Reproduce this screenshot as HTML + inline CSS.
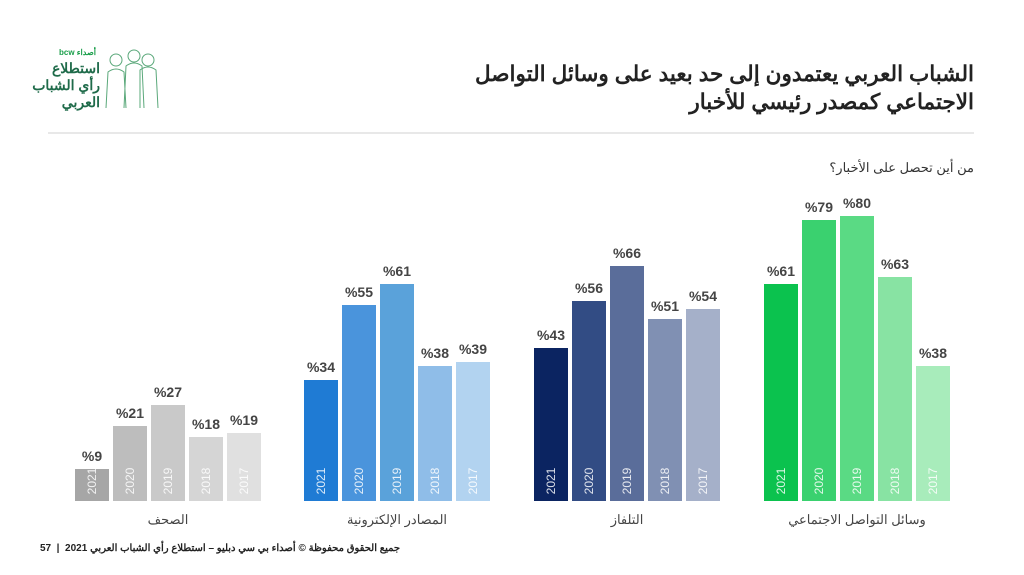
<!DOCTYPE html>
<html><head><meta charset="utf-8"><style>
body{margin:0;width:1024px;height:575px;background:#fff;position:relative;overflow:hidden;font-family:"Liberation Sans","Noto Sans CJK SC",sans-serif}
.t{position:absolute;white-space:nowrap}
.bar{position:absolute;width:34px;bottom:74px}
.yr{position:absolute;left:0;width:34px;text-align:center;color:rgba(255,255,255,.85);font-size:12px;transform:rotate(-90deg);transform-origin:center;line-height:12px;height:12px;bottom:14px}
.v{position:absolute;width:60px;left:-13px;text-align:center;font-weight:bold;font-size:14px;color:#444;top:-21px}
</style></head><body>
<div class="t" style="right:50px;top:60px;font-size:21.5px;font-weight:bold;color:#222;direction:rtl;text-align:right;line-height:28px">الشباب العربي يعتمدون إلى حد بعيد على وسائل التواصل<br>الاجتماعي كمصدر رئيسي للأخبار</div>
<div style="position:absolute;left:48px;top:132px;width:926px;height:2px;background:#e8e8e8"></div>
<div class="t" style="right:50px;top:160px;font-size:13px;color:#333;direction:rtl">من أين تحصل على الأخبار؟</div>
<div class="t" style="left:56px;top:48px;width:40px;text-align:right;font-size:8px;color:#1a9e4a;font-weight:bold">bcw أصداء</div>
<div class="t" style="left:36px;top:60px;font-size:14px;line-height:17px;color:#1f6b4a;text-align:right;width:64px;font-weight:bold;direction:rtl">استطلاع<br>رأي الشباب<br>العربي</div>
<svg style="position:absolute;left:100px;top:48px" width="62" height="62"><g fill="none" stroke="#5aa87a" stroke-width="1"><circle cx="16" cy="12" r="6"/><circle cx="34" cy="8" r="6"/><circle cx="48" cy="12" r="6"/><path d="M6 60 L8 24 Q16 18 24 24 L26 60 M24 60 L26 18 Q34 12 42 18 L44 60 M40 60 L40 22 Q48 16 56 22 L58 60"/></g></svg>

<div class="t" style="left:40px;top:543px;font-size:10px;font-weight:bold;color:#222">57 &nbsp;| &nbsp;<span style="direction:rtl;unicode-bidi:embed">جميع الحقوق محفوظة © أصداء بي سي دبليو – استطلاع رأي الشباب العربي 2021</span></div>

<div id="c"></div>
<script>
var groups=[
{x:75,label:"الصحف",vals:[9,21,27,18,19],cols:["#a6a6a6","#bdbdbd","#c9c9c9","#d5d5d5","#e0e0e0"]},
{x:304,label:"المصادر  الإلكترونية",vals:[34,55,61,38,39],cols:["#1f7bd4","#4a94dc","#5aa2da","#8fbde8","#b2d3f0"]},
{x:534,label:"التلفاز",vals:[43,56,66,51,54],cols:["#0b2461","#324c84","#5a6d9a","#8090b3","#a5b0c9"]},
{x:764,label:"وسائل التواصل الاجتماعي",vals:[61,79,80,63,38],cols:["#0bc24e","#3ad16f","#5ada84","#88e3a3","#a8ecbb"]}];
var yrs=["2021","2020","2019","2018","2017"],h="";
groups.forEach(function(g){
 g.vals.forEach(function(v,i){
  var ht=Math.round(v*3.5625);
  h+='<div class="bar" style="left:'+(g.x+i*38)+'px;height:'+ht+'px;background:'+g.cols[i]+'"><div class="v">%'+v+'</div><div class="yr">'+yrs[i]+'</div></div>';
 });
 h+='<div class="t" style="left:'+(g.x-20)+'px;width:226px;text-align:center;top:512px;font-size:13px;color:#444;direction:rtl">'+g.label+'</div>';
});
document.getElementById("c").innerHTML=h;
</script>
</body></html>
